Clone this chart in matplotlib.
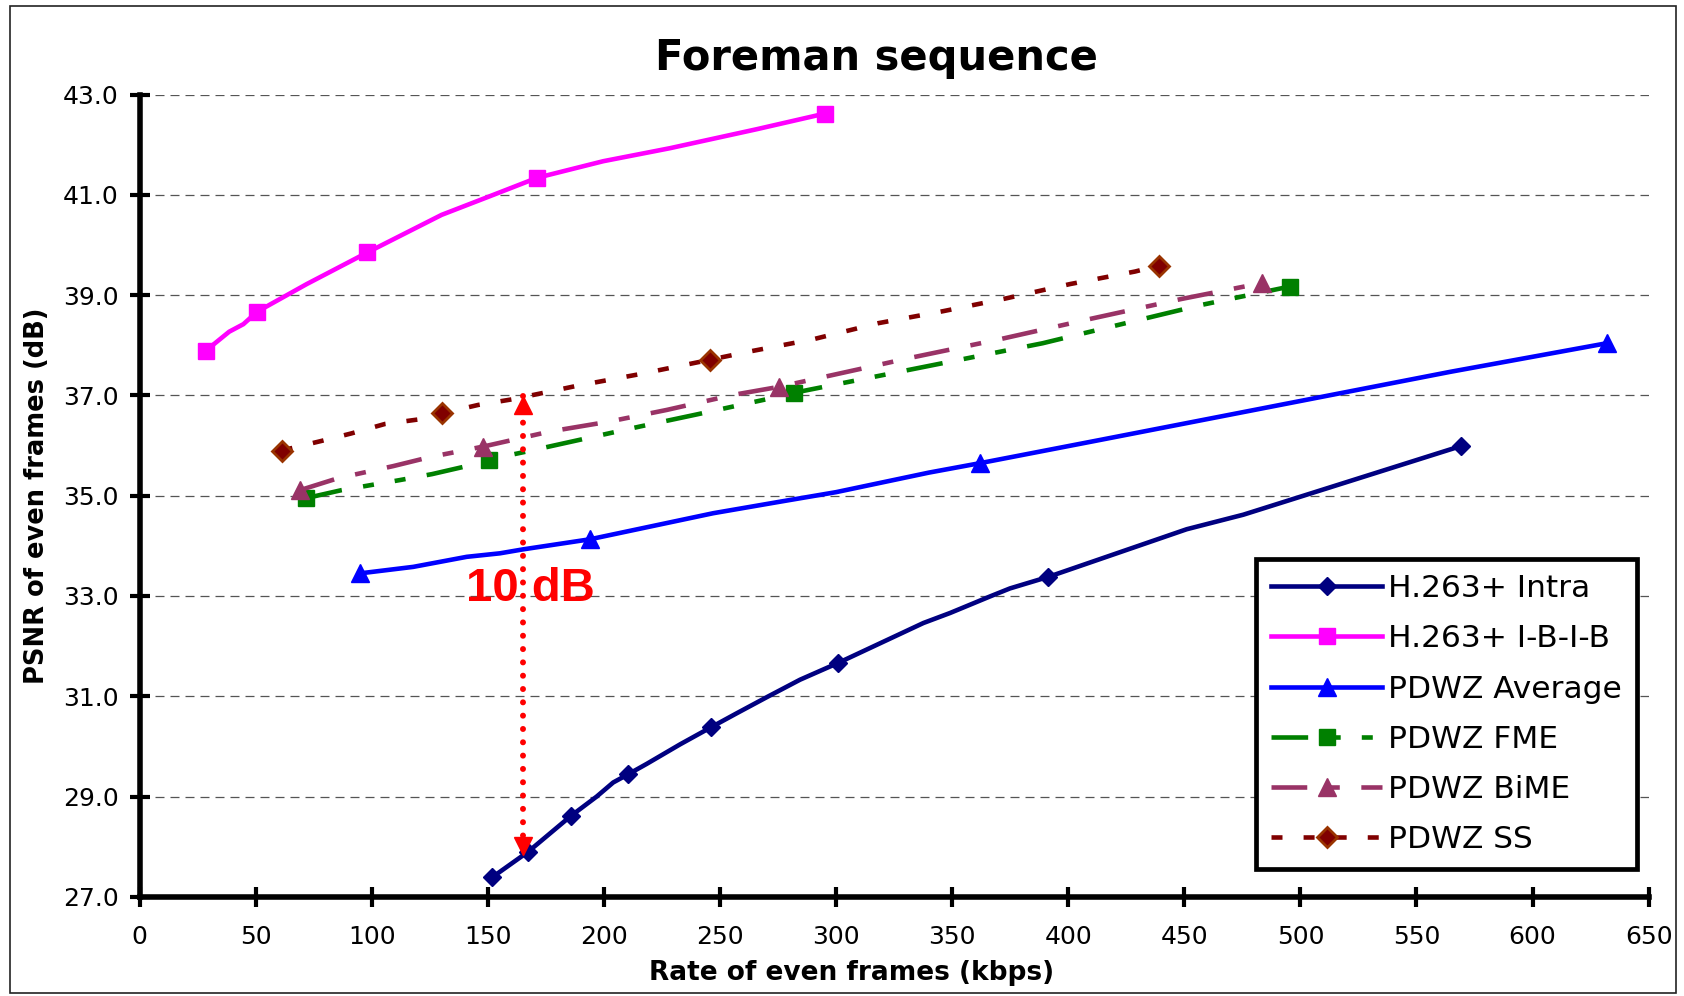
import matplotlib
matplotlib.use("Agg")
import matplotlib.pyplot as plt
from matplotlib.patches import Rectangle
from matplotlib.transforms import ScaledTranslation

# values: rate of even frames (kbps) vs PSNR (dB)
# markers sit only on some of the points (markevery)
intra_rate = [151.9, 167.4, 185.7, 196.9, 204.0, 210.3, 218.4, 232.8, 246.1, 257.2, 270.1,
              284.5, 300.7, 337.6, 349.1, 366.3, 374.9, 391.4, 451.0, 475.4, 569.2]
intra_psnr = [27.39, 27.90, 28.61, 29.00, 29.28, 29.44, 29.65, 30.04, 30.38, 30.66, 30.98,
              31.33, 31.66, 32.46, 32.66, 32.99, 33.15, 33.38, 34.33, 34.62, 35.99]
intra_marks = [0, 1, 2, 5, 8, 12, 17, 20]

ibib_rate = [28.5, 38.6, 44.7, 50.7, 72.0, 98.1, 130.1, 150.2, 171.3, 199.7, 228.5, 266.0, 295.2]
ibib_psnr = [37.89, 38.27, 38.42, 38.67, 39.22, 39.85, 40.60, 40.96, 41.34, 41.67, 41.93, 42.31, 42.62]
ibib_marks = [0, 3, 5, 8, 12]

avg_rate = [94.9, 117.9, 140.9, 155.2, 165.3, 194.0, 247.1, 275.9, 300.0, 340.0, 362.2, 413.6, 564.6, 632.0]
avg_psnr = [33.45, 33.58, 33.78, 33.85, 33.93, 34.13, 34.65, 34.88, 35.07, 35.46, 35.65, 36.11, 37.47, 38.04]
avg_marks = [0, 5, 10, 13]

fme_rate = [71.7, 87.0, 112.0, 126.0, 141.0, 150.4, 166.7, 215.6, 240.0, 273.7, 281.7,
            350.0, 389.0, 405.0, 457.0, 495.4]
fme_psnr = [34.95, 35.11, 35.31, 35.43, 35.59, 35.72, 35.88, 36.38, 36.62, 36.96, 37.05,
            37.68, 38.04, 38.22, 38.80, 39.17]
fme_marks = [0, 5, 10, 15]

bime_rate = [69.1, 85.6, 109.3, 125.1, 148.1, 176.8, 202.6, 227.1, 255.7, 275.4, 314.6,
             331.1, 370.6, 409.0, 448.5, 483.4]
bime_psnr = [35.11, 35.35, 35.59, 35.77, 35.98, 36.28, 36.48, 36.71, 37.01, 37.17, 37.57,
             37.74, 38.12, 38.52, 38.92, 39.24]
bime_marks = [0, 4, 9, 15]

ss_rate = [61.2, 78.2, 91.1, 105.7, 120.1, 130.1, 145.9, 160.3, 173.9, 188.3, 215.0,
           245.7, 262.2, 290.2, 318.2, 346.2, 372.8, 400.8, 428.8, 439.1]
ss_psnr = [35.90, 36.09, 36.24, 36.43, 36.52, 36.64, 36.81, 36.92, 37.05, 37.19, 37.42,
           37.71, 37.87, 38.12, 38.44, 38.68, 38.93, 39.22, 39.47, 39.59]
ss_marks = [0, 5, 11, 19]

# the red "10 dB" gap arrow
arrow_rate = 165.3
arrow_top = 36.99
arrow_bottom = 27.82
gap_label = "10 dB"
gap_label_pos = (168.2, 32.89)

x_ticks = list(range(0, 651, 50))
y_ticks = [27.0, 29.0, 31.0, 33.0, 35.0, 37.0, 39.0, 41.0, 43.0]

fig = plt.figure(figsize=(16.84, 9.96), dpi=100)
ax = fig.add_axes([0.0829, 0.0996, 0.8961, 0.8055])

lw = 3.3
ax.plot(intra_rate, intra_psnr, color="#000080", lw=lw, marker="D", ms=9,
        markevery=intra_marks, label="H.263+ Intra", zorder=5)
ax.plot(ibib_rate, ibib_psnr, color="#FF00FF", lw=lw, marker="s", ms=11.5,
        markevery=ibib_marks, label="H.263+ I-B-I-B", zorder=5)
ax.plot(avg_rate, avg_psnr, color="#0000FF", lw=lw, marker="^", ms=12.5,
        markevery=avg_marks, label="PDWZ Average", zorder=5)
ax.plot(fme_rate, fme_psnr, color="#008000", lw=lw, ls=(0, (8.0, 4.7, 2.4, 4.6, 2.4, 4.7)),
        marker="s", ms=11.5, markevery=fme_marks, label="PDWZ FME", zorder=5)
ax.plot(bime_rate, bime_psnr, color="#993366", lw=lw, ls=(0, (7.8, 4.7, 2.4, 4.7)),
        marker="^", ms=13, markevery=bime_marks, label="PDWZ BiME", zorder=5)
ax.plot(ss_rate, ss_psnr, color="#800000", lw=lw, ls=(0, (2.4, 4.6)),
        marker="D", ms=10, mfc="#800000", mec="#993300", mew=2,
        markevery=ss_marks, label="PDWZ SS", zorder=5)

# dotted shaft + two filled heads, tips placed on the data values
ax.plot([arrow_rate, arrow_rate], [arrow_top, arrow_bottom], color="red", lw=4.3,
        ls=(0, (0.01, 2.22)), dash_capstyle="round", zorder=6)
head = 13.5
down = ScaledTranslation(0, -head / 2 / 72, fig.dpi_scale_trans)
up = ScaledTranslation(0, head / 2 / 72, fig.dpi_scale_trans)
ax.plot([arrow_rate], [arrow_top], marker="^", ms=head, color="red", ls="none",
        transform=ax.transData + down, zorder=7)
ax.plot([arrow_rate], [arrow_bottom], marker="v", ms=head, color="red", ls="none",
        transform=ax.transData + up, zorder=7)
ax.text(gap_label_pos[0], gap_label_pos[1], gap_label, color="red", fontsize=34,
        fontweight="bold", family=["Liberation Sans", "DejaVu Sans"],
        ha="center", va="baseline", zorder=8)

ax.set_xlim(0, 650)
ax.set_ylim(27, 43)
ax.set_xticks(x_ticks)
ax.set_yticks(y_ticks)
ax.set_yticklabels([f"{v:.1f}" for v in y_ticks])
ax.tick_params(axis="both", direction="inout", length=14, width=3, labelsize=18)
ax.tick_params(axis="y", pad=8)
ax.tick_params(axis="x", pad=13.5)

ax.grid(axis="y", color="#555555", lw=0.9, ls=(0, (7.2, 4.8)), zorder=1)
ax.set_axisbelow(True)
for s in ["top", "right"]:
    ax.spines[s].set_visible(False)
for s in ["left", "bottom"]:
    ax.spines[s].set_linewidth(4)
    ax.spines[s].set_zorder(9)

ax.set_xlabel("Rate of even frames (kbps)", fontsize=19, fontweight="bold", va="center")
ax.xaxis.set_label_coords(0.4718, -0.0944)
ax.set_ylabel("PSNR of even frames (dB)", fontsize=18.5, fontweight="bold", va="center")
ax.yaxis.set_label_coords(-0.068, 0.5)

fig.text(0.5205, 0.9297, "Foreman sequence", fontsize=30, fontweight="bold",
         ha="center", va="baseline")

leg = ax.legend(loc="upper right", bbox_to_anchor=(0.9923, 0.421), borderaxespad=0,
                fontsize=22.5, fancybox=False, framealpha=1, edgecolor="black",
                handlelength=3.55, handletextpad=0.2, labelspacing=0.68,
                borderpad=0.48, numpoints=1)
leg.get_frame().set_linewidth(3.4)
leg.set_zorder(10)

# thin frame round the whole picture
fig.patches.append(Rectangle((0.006, 0.003), 0.9895, 0.9905, transform=fig.transFigure,
                             fill=False, lw=1.2, edgecolor="#222222"))

fig.savefig("out.png", dpi=100)
